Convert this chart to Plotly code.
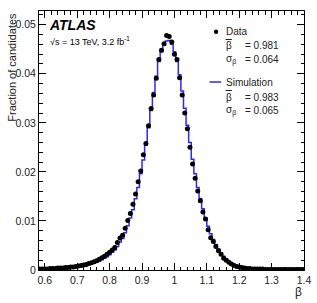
import plotly.graph_objects as go

# bin centres (width 0.008)
bin_start = 0.584
bin_width = 0.008

data_frac = [
    0.0002, 0.0002, 0.0002, 0.0002, 0.0003, 0.0003, 0.0003, 0.0004, 0.0004, 0.0004,
    0.0005, 0.0005, 0.0006, 0.0006, 0.0007, 0.0008, 0.0009, 0.0010, 0.0011, 0.0013,
    0.0015, 0.0017, 0.0019, 0.0022, 0.0025, 0.0028, 0.0032, 0.0036, 0.0041, 0.0046,
    0.0056, 0.0065, 0.0071, 0.0085, 0.0101, 0.0115, 0.0134, 0.0155, 0.0180, 0.0202,
    0.0235, 0.0258, 0.0294, 0.0329, 0.0357, 0.0391, 0.0429, 0.0448, 0.0461, 0.0478,
    0.0476, 0.0465, 0.0440, 0.0429, 0.0392, 0.0357, 0.0320, 0.0288, 0.0250, 0.0216,
    0.0187, 0.0161, 0.0141, 0.0118, 0.0104, 0.0082, 0.0066, 0.0058, 0.0048, 0.0039,
    0.0032, 0.0024, 0.0020, 0.0016, 0.0012, 0.0009, 0.0007, 0.0006, 0.0005, 0.0004,
    0.0003, 0.0003, 0.0002, 0.0002, 0.0002, 0.0002, 0.0002, 0.0001, 0.0001, 0.0001,
    0.0001, 0.0001, 0.0001, 0.0001, 0.0001, 0.0001, 0.0001, 0.0001, 0.0001, 0.0001,
    0.0001, 0.0001, 0.0001,
]

sim_frac = [
    0.0001, 0.0001, 0.0001, 0.0002, 0.0002, 0.0002, 0.0002, 0.0003, 0.0003, 0.0003,
    0.0004, 0.0004, 0.0005, 0.0005, 0.0006, 0.0007, 0.0008, 0.0009, 0.0010, 0.0011,
    0.0013, 0.0014, 0.0016, 0.0018, 0.0021, 0.0024, 0.0027, 0.0031, 0.0036, 0.0041,
    0.0048, 0.0057, 0.0064, 0.0076, 0.0090, 0.0106, 0.0123, 0.0145, 0.0168, 0.0196,
    0.0224, 0.0255, 0.0290, 0.0325, 0.0362, 0.0395, 0.0425, 0.0445, 0.0458, 0.0467,
    0.0468, 0.0460, 0.0445, 0.0425, 0.0398, 0.0365, 0.0330, 0.0295, 0.0260, 0.0226,
    0.0196, 0.0168, 0.0146, 0.0125, 0.0106, 0.0089, 0.0074, 0.0062, 0.0052, 0.0043,
    0.0035, 0.0028, 0.0023, 0.0018, 0.0014, 0.0011, 0.0009, 0.0007, 0.0005, 0.0004,
    0.0003, 0.0003, 0.0002, 0.0002, 0.0002, 0.0002, 0.0001, 0.0001, 0.0001, 0.0001,
    0.0001, 0.0001, 0.0001, 0.0001, 0.0001, 0.0001, 0.0001, 0.0001, 0.0001, 0.0001,
    0.0001, 0.0001, 0.0001,
]

beta = [round(bin_start + bin_width * i, 3) for i in range(len(data_frac))]

x_ticks = [0.6, 0.7, 0.8, 0.9, 1.0, 1.1, 1.2, 1.3, 1.4]
x_labels = ["0.6", "0.7", "0.8", "0.9", "1", "1.1", "1.2", "1.3", "1.4"]
y_ticks = [0, 0.01, 0.02, 0.03, 0.04, 0.05]
y_labels = ["0", "0.01", "0.02", "0.03", "0.04", "0.05"]

legend_labels = ["Data", "Simulation"]
mean_values = ["0.981", "0.983"]
sigma_values = ["0.064", "0.065"]

FONT = "Liberation Sans, Arial, sans-serif"
BLUE = "#2b2bf0"

fig = go.Figure()
fig.add_trace(go.Scatter(
    x=beta, y=sim_frac, mode="lines", line=dict(color=BLUE, width=1.5, shape="hvh"),
    showlegend=False, hoverinfo="skip"))
fig.add_trace(go.Scatter(
    x=beta, y=data_frac, mode="markers",
    marker=dict(color="black", size=5, symbol="circle"), showlegend=False))

axis_common = dict(
    showline=True, linecolor="black", linewidth=1, mirror="ticks",
    ticks="inside", ticklen=7, tickwidth=1, tickcolor="black",
    showgrid=False, zeroline=False,
    tickfont=dict(family=FONT, size=10.5, color="#222222"),
    ticklabeloverflow="allow",
)
fig.update_xaxes(range=[0.582, 1.4], tickvals=x_ticks, ticktext=x_labels,
                 minor=dict(ticks="inside", ticklen=3.5, dtick=0.02, tick0=0.6,
                            tickcolor="black", showgrid=False),
                 **axis_common)
fig.update_yaxes(range=[0, 0.0528], tickvals=y_ticks, ticktext=y_labels,
                 minor=dict(ticks="inside", ticklen=3.5, dtick=0.002, tick0=0,
                            tickcolor="black", showgrid=False),
                 **axis_common)


def px_x(p):
    return (p - 39) / (311 - 39)


def px_y(p):
    return (270 - p) / (270 - 11)


def txt(text, xx, yy, size=10, xanchor="left", color="#222222", **kw):
    return dict(text=text, x=px_x(xx), y=px_y(yy), xref="paper", yref="paper",
                xanchor=xanchor, yanchor="middle", showarrow=False,
                font=dict(family=FONT, size=size, color=color), **kw)


ann = []
ann.append(dict(text="Fraction of candidates", x=-0.105, y=1.0, xref="paper", yref="paper",
                xanchor="center", yanchor="top", textangle=-90, showarrow=False,
                font=dict(family=FONT, size=11, color="#222222")))
ann.append(txt("β", 305, 292, size=12, xanchor="center"))
ann.append(txt("<b><i>ATLAS</i></b>", 47, 25, size=14, color="black"))
ann.append(txt("√s = 13 TeV, 3.2 fb<sup>-1</sup>", 48, 41, size=9, color="black"))

shapes = [
    dict(type="circle", xref="paper", yref="paper",
         x0=px_x(218.5), x1=px_x(223), y0=px_y(29.5), y1=px_y(34),
         fillcolor="black", line=dict(color="black", width=0)),
    dict(type="line", xref="paper", yref="paper",
         x0=px_x(214), x1=px_x(226), y0=px_y(82), y1=px_y(82),
         line=dict(color=BLUE, width=1.5)),
]

rows_y = [(32, 46, 60), (82, 97, 110)]
for lab, mval, sval, (y0, y1, y2) in zip(legend_labels, mean_values, sigma_values, rows_y):
    ann.append(txt(lab, 229, y0))
    ann.append(txt("β", 229, y1))
    ann.append(txt("= " + mval, 248, y1))
    ann.append(txt("σ<sub>β</sub>", 229, y2))
    ann.append(txt("= " + sval, 248, y2))
    shapes.append(dict(type="line", xref="paper", yref="paper",
                       x0=px_x(230.5), x1=px_x(237), y0=px_y(y1 - 6.5), y1=px_y(y1 - 6.5),
                       line=dict(color="#222222", width=1)))

fig.update_layout(
    width=317, height=303,
    margin=dict(l=39, r=6, t=11, b=33),
    plot_bgcolor="white", paper_bgcolor="white",
    annotations=ann, shapes=shapes,
)

fig.write_html("out.html")
